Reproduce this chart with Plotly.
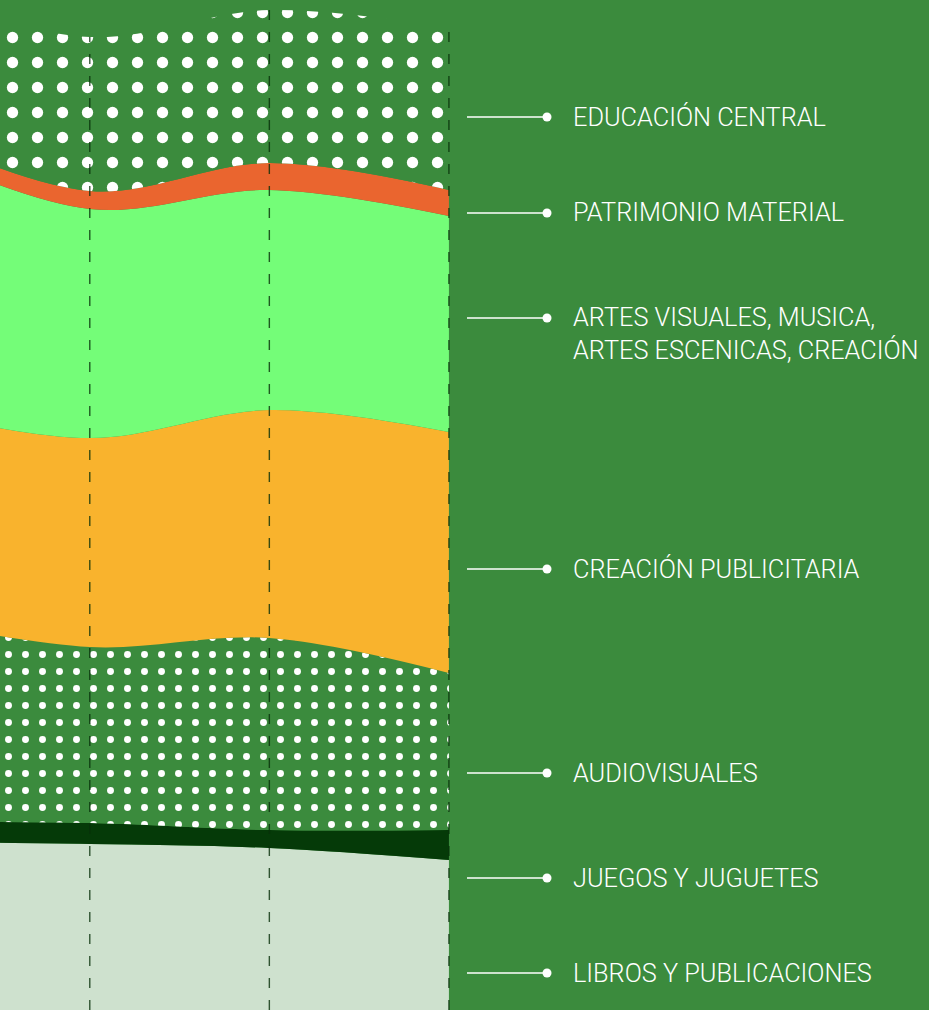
import plotly.graph_objects as go

# ---- data ----
periodos = [0, 1, 2, 3]
libros = [16.8, 16.6, 16.2, 15.0]
juegos = [2.0, 2.1, 1.8, 3.0]
audiovisuales = [20.3, 17.6, 19.2, 15.7]
publicitaria = [21.0, 20.9, 22.8, 24.1]
artes = [26.1, 22.9, 22.0, 21.6]
patrimonio = [1.7, 1.8, 2.7, 2.6]
educacion = [13.7, 15.4, 15.3, 16.2]

etiquetas = [
    "EDUCACIÓN CENTRAL",
    "PATRIMONIO MATERIAL",
    "ARTES VISUALES, MUSICA,<br>ARTES ESCENICAS, CREACIÓN",
    "CREACIÓN PUBLICITARIA",
    "AUDIOVISUALES",
    "JUEGOS Y JUGUETES",
    "LIBROS Y PUBLICACIONES",
]

W, H = 929, 1010
BG = "#3b8b3d"

fig = go.Figure()

series = [
    ("LIBROS Y PUBLICACIONES", libros, "#cee1ce", None),
    ("JUEGOS Y JUGUETES", juegos, "#053a08", None),
    ("AUDIOVISUALES", audiovisuales, BG, dict(shape=".", fgcolor="white", bgcolor=BG,
                                               size=17, solidity=0.13, fillmode="replace")),
    ("CREACIÓN PUBLICITARIA", publicitaria, "#f9b32d", None),
    ("ARTES VISUALES", artes, "#74fd78", None),
    ("PATRIMONIO MATERIAL", patrimonio, "#ea652f", None),
    ("EDUCACIÓN CENTRAL", educacion, BG, dict(shape=".", fgcolor="white", bgcolor=BG,
                                              size=25, solidity=0.16, fillmode="replace")),
]

for name, vals, color, pat in series:
    kw = dict(
        x=periodos, y=vals, name=name, mode="lines", stackgroup="one",
        line=dict(width=0, shape="spline", smoothing=1, color=color),
        fillcolor=color, hoverinfo="skip", showlegend=False,
    )
    if pat:
        kw["fillpattern"] = pat
    fig.add_trace(go.Scatter(**kw))

# dashed verticals at each period up to the stack total
totales = [sum(v) for v in zip(libros, juegos, audiovisuales, publicitaria, artes, patrimonio, educacion)]
vx, vy = [], []
for xi, t in zip(periodos[1:], totales[1:]):
    vx += [xi, xi, None]
    vy += [0, t, None]
fig.add_trace(go.Scatter(x=vx, y=vy, mode="lines", hoverinfo="skip", showlegend=False,
                         line=dict(color="rgba(8,48,10,0.8)", width=1.4, dash="10px,12px")))

# legend rows (pixel y centres)
leg_y = [117, 213, 318, 569, 773, 878, 973]
FONT = dict(family="Roboto", size=25.3, color="white", weight=300)
shapes = []
annotations = []
for lab, py in zip(etiquetas, leg_y):
    yp = 1 - py / H
    shapes.append(dict(type="line", xref="paper", yref="paper",
                       x0=467 / W, x1=546 / W, y0=yp, y1=yp,
                       line=dict(color="white", width=1.5)))
    shapes.append(dict(type="circle", xref="paper", yref="paper",
                       x0=542.5 / W, x1=551.5 / W, y0=yp - 4.5 / H, y1=yp + 4.5 / H,
                       fillcolor="white", line=dict(width=0)))
    if "<br>" in lab:
        annotations.append(dict(xref="paper", yref="paper", x=571 / W, y=1 - (py - 17) / H,
                                xanchor="left", yanchor="top", align="left", showarrow=False,
                                text=lab, font=FONT))
    else:
        annotations.append(dict(xref="paper", yref="paper", x=571 / W, y=yp,
                                xanchor="left", yanchor="middle", align="left", showarrow=False,
                                text=lab, font=FONT))

fig.update_layout(
    width=W, height=H,
    margin=dict(l=0, r=0, t=0, b=0),
    paper_bgcolor=BG, plot_bgcolor=BG,
    xaxis=dict(domain=[0, 450 / W], range=[0.5, 3.006], visible=False, fixedrange=True),
    yaxis=dict(range=[0, 101], visible=False, fixedrange=True),
    shapes=shapes, annotations=annotations,
    showlegend=False,
)

fig.write_html(
    "out.html",
    config={"displayModeBar": False},
    post_script="document.body.style.margin='0';document.body.style.padding='0';"
                "document.body.style.overflow='hidden';",
)
